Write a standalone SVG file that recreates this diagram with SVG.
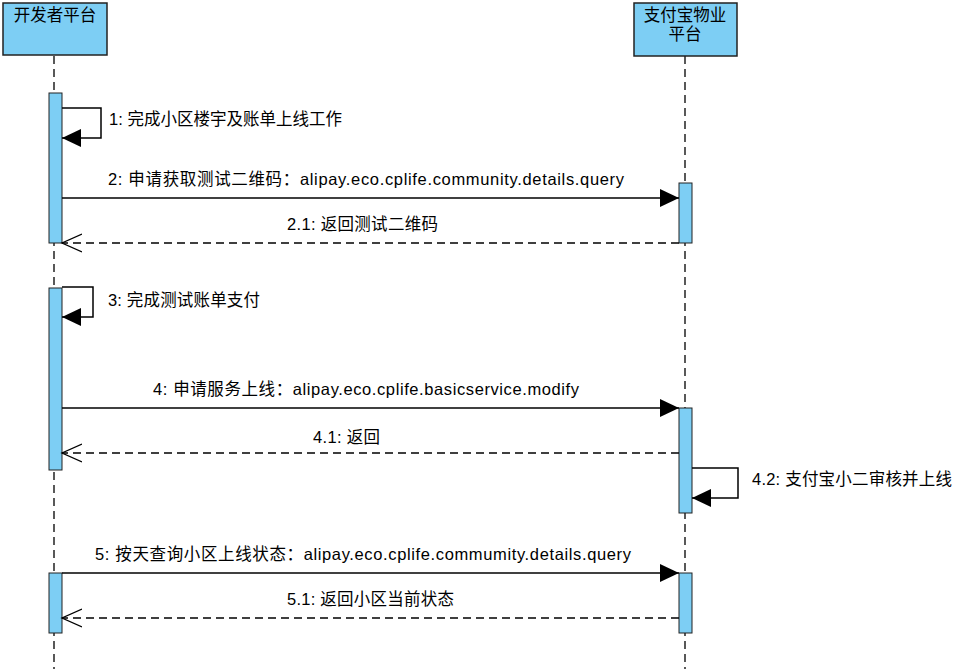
<svg xmlns="http://www.w3.org/2000/svg" width="975" height="669" viewBox="0 0 975 669">
<defs>
<style>
text{font-family:"Liberation Sans","Noto Sans CJK SC",sans-serif;font-size:16.5px;fill:#000}
.box{fill:#7dcef4;stroke:#222;stroke-width:1.5}
.act{fill:#7dcef4;stroke:#222;stroke-width:1}
.life{stroke:#000;stroke-width:1.3;stroke-dasharray:8,5;fill:none}
.msg{stroke:#000;stroke-width:1.5;fill:none}
.ret{stroke:#000;stroke-width:1.3;fill:none;stroke-dasharray:8,5}
.mid{text-anchor:middle}
</style>
<marker id="fill" markerWidth="20" markerHeight="20" refX="19" refY="9" orient="auto" markerUnits="userSpaceOnUse"><path d="M0,0 L19,9 L0,18 z" fill="#000"/></marker>
<marker id="open" markerWidth="22" markerHeight="22" refX="20" refY="10" orient="auto" markerUnits="userSpaceOnUse"><path d="M0,1 L20,10 L0,19" fill="none" stroke="#000" stroke-width="1.3"/></marker>
</defs>
<rect width="975" height="669" fill="#fff"/>
<g id="lifelines">
<line class="life" x1="54" y1="56" x2="54" y2="669"/>
<line class="life" x1="685" y1="56" x2="685" y2="669"/>
</g>
<g id="dev">
<rect class="box" x="3" y="3" width="104" height="52"/>
<text class="mid" x="55" y="21">开发者平台</text>
</g>
<g id="alipay">
<rect class="box" x="634" y="3" width="103" height="53"/>
<text class="mid" x="685" y="21">支付宝物业</text>
<text class="mid" x="685" y="40">平台</text>
</g>
<g id="activations">
<rect class="act" x="49" y="93" width="13" height="150"/>
<rect class="act" x="49" y="288" width="13" height="182"/>
<rect class="act" x="49" y="573" width="13" height="60"/>
<rect class="act" x="679" y="183" width="13" height="60"/>
<rect class="act" x="679" y="408" width="13" height="105"/>
<rect class="act" x="679" y="573" width="13" height="60"/>
</g>
<g id="connectors">
<path class="msg" d="M62,108 H101 V138 H62" marker-end="url(#fill)"/>
<line class="msg" x1="62" y1="198" x2="679" y2="198" marker-end="url(#fill)"/>
<line class="ret" x1="679" y1="243" x2="62" y2="243" marker-end="url(#open)"/>
<path class="msg" d="M62,287 H93 V317 H62" marker-end="url(#fill)"/>
<line class="msg" x1="62" y1="408" x2="679" y2="408" marker-end="url(#fill)"/>
<line class="ret" x1="679" y1="453" x2="62" y2="453" marker-end="url(#open)"/>
<path class="msg" d="M692,468 H738 V498 H692" marker-end="url(#fill)"/>
<line class="msg" x1="62" y1="573" x2="679" y2="573" marker-end="url(#fill)"/>
<line class="ret" x1="679" y1="618" x2="62" y2="618" marker-end="url(#open)"/>
</g>
<g id="labels">
<text x="109" y="125" textLength="233" lengthAdjust="spacing">1: 完成小区楼宇及账单上线工作</text>
<text x="108" y="185" textLength="516" lengthAdjust="spacing">2: 申请获取测试二维码：alipay.eco.cplife.community.details.query</text>
<text x="287" y="230" textLength="151" lengthAdjust="spacing">2.1: 返回测试二维码</text>
<text x="108" y="306" textLength="152" lengthAdjust="spacing">3: 完成测试账单支付</text>
<text x="153" y="395" textLength="426" lengthAdjust="spacing">4: 申请服务上线：alipay.eco.cplife.basicservice.modify</text>
<text x="313" y="443" textLength="67" lengthAdjust="spacing">4.1: 返回</text>
<text x="752" y="485" textLength="200" lengthAdjust="spacing">4.2: 支付宝小二审核并上线</text>
<text x="95" y="560" textLength="536" lengthAdjust="spacing">5: 按天查询小区上线状态：alipay.eco.cplife.commumity.details.query</text>
<text x="287" y="605" textLength="167" lengthAdjust="spacing">5.1: 返回小区当前状态</text>
</g>
</svg>
